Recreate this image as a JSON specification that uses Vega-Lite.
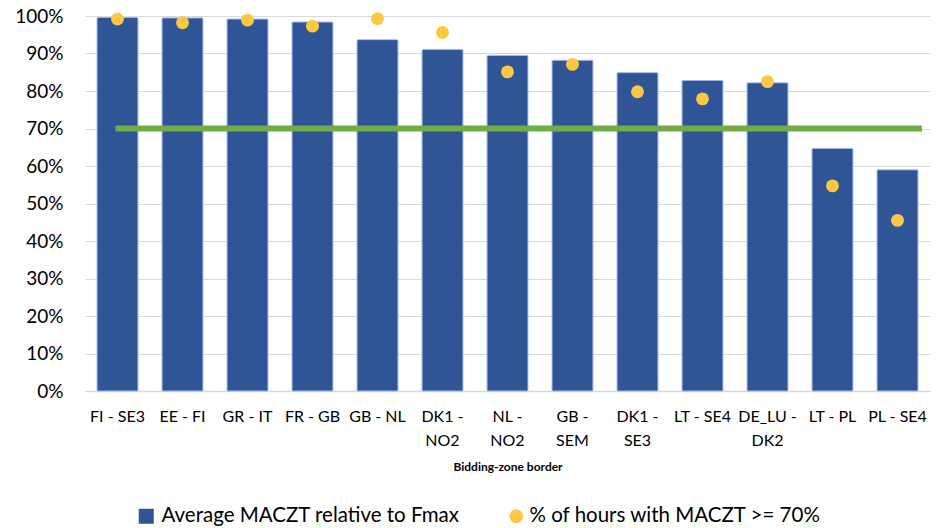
{
  "$schema": "https://vega.github.io/schema/vega-lite/v6.json",
  "width": 845,
  "height": 375,
  "autosize": "none",
  "padding": {"left": 85, "top": 16, "right": 13, "bottom": 137},
  "background": "white",
  "config": {
    "font": "Lato",
    "view": {"stroke": null},
    "axisY": {
      "grid": true,
      "gridColor": "#D9D9D9",
      "gridWidth": 1.2,
      "gridOpacity": 1,
      "labelOverlap": false,
      "labelFont": "Lato",
      "labelFontSize": 19,
      "labelColor": "#000000",
      "labelPadding": 22,
      "ticks": false,
      "domain": false,
      "tickCount": 11
    },
    "axisX": {
      "grid": false,
      "ticks": false
    }
  },
  "datasets": {
    "borders": [
      {"border": "FI - SE3", "avg": 0.996, "hours": 0.992},
      {"border": "EE - FI", "avg": 0.995, "hours": 0.982},
      {"border": "GR - IT", "avg": 0.992, "hours": 0.989},
      {"border": "FR - GB", "avg": 0.984, "hours": 0.973},
      {"border": "GB - NL", "avg": 0.937, "hours": 0.993},
      {"border": "DK1 - NO2", "avg": 0.911, "hours": 0.956},
      {"border": "NL - NO2", "avg": 0.895, "hours": 0.851},
      {"border": "GB - SEM", "avg": 0.882, "hours": 0.871},
      {"border": "DK1 - SE3", "avg": 0.849, "hours": 0.798},
      {"border": "LT - SE4", "avg": 0.828, "hours": 0.779},
      {"border": "DE_LU - DK2", "avg": 0.822, "hours": 0.825},
      {"border": "LT - PL", "avg": 0.647, "hours": 0.547},
      {"border": "PL - SE4", "avg": 0.590, "hours": 0.455}
    ],
    "threshold": [
      {"start": "FI - SE3", "end": "PL - SE4", "level": 0.7}
    ]
  },
  "resolve": {"scale": {"fill": "independent", "color": "independent"}, "legend": {"fill": "independent", "color": "independent"}},
  "layer": [
    {
      "data": {"name": "borders"},
      "mark": {"type": "bar", "stroke": "#8FAADC", "strokeWidth": 0.8, "cornerRadius": 1},
      "encoding": {
        "x": {
          "field": "border",
          "type": "nominal",
          "sort": null,
          "scale": {
            "domain": ["FI - SE3", "EE - FI", "GR - IT", "FR - GB", "GB - NL", "DK1 - NO2", "NL - NO2", "GB - SEM", "DK1 - SE3", "LT - SE4", "DE_LU - DK2", "LT - PL", "PL - SE4"],
            "paddingInner": 0.37,
            "paddingOuter": 0.185
          },
          "axis": {
            "title": "Bidding-zone border",
            "titleFont": "Lato",
            "titleFontSize": 12,
            "titleFontWeight": "bold",
            "titleColor": "#000000",
            "titlePadding": 13,
            "labelAngle": 0,
            "labelFont": "Lato",
            "labelFontSize": 16,
            "labelColor": "#000000",
            "labelPadding": 17,
            "labelLineHeight": 24,
            "labelLimit": 0,
            "labelExpr": "indexof(['DK1 - NO2','NL - NO2','GB - SEM','DK1 - SE3','DE_LU - DK2'], datum.label) >= 0 ? [split(datum.label, ' - ')[0] + ' -', split(datum.label, ' - ')[1]] : datum.label",
            "domain": true,
            "domainColor": "#D9D9D9",
            "domainWidth": 1.5
          }
        },
        "y": {
          "field": "avg",
          "type": "quantitative",
          "scale": {"domain": [0, 1], "nice": false},
          "axis": {
            "title": null,
            "format": ".0%",
            "values": [0, 0.1, 0.2, 0.3, 0.4, 0.5, 0.6, 0.7, 0.8, 0.9, 1.0],
            "grid": true,
            "labelOverlap": false
          }
        },
        "fill": {
          "datum": "Average MACZT relative to Fmax",
          "scale": {"domain": ["Average MACZT relative to Fmax"], "range": ["#2F5597"]},
          "legend": {
            "title": null,
            "orient": "none",
            "legendX": 51,
            "legendY": 490,
            "symbolType": "square",
            "labelFont": "Lato",
            "labelFontSize": 20.5,
            "labelColor": "#000000",
            "symbolSize": 225,
            "symbolStrokeWidth": 0,
            "labelOffset": 5,
            "labelLimit": 0
          }
        }
      }
    },
    {
      "data": {"name": "threshold"},
      "mark": {"type": "rule", "color": "#70AD47", "strokeWidth": 6},
      "encoding": {
        "x": {"field": "start", "type": "nominal", "sort": null, "bandPosition": 0.45},
        "x2": {"field": "end", "bandPosition": 1.1},
        "y": {"field": "level", "type": "quantitative"}
      }
    },
    {
      "data": {"name": "borders"},
      "mark": {"type": "point", "filled": true, "shape": "circle", "size": 165, "opacity": 1},
      "encoding": {
        "x": {"field": "border", "type": "nominal", "sort": null},
        "y": {"field": "hours", "type": "quantitative"},
        "color": {
          "datum": "% of hours with MACZT >= 70%",
          "scale": {"domain": ["% of hours with MACZT >= 70%"], "range": ["#FBC843"]},
          "legend": {
            "title": null,
            "orient": "none",
            "legendX": 421,
            "legendY": 490,
            "symbolType": "circle",
            "labelFont": "Lato",
            "labelFontSize": 20.5,
            "labelColor": "#000000",
            "symbolSize": 190,
            "symbolStrokeWidth": 0,
            "labelOffset": 3,
            "labelLimit": 0
          }
        }
      }
    }
  ]
}
